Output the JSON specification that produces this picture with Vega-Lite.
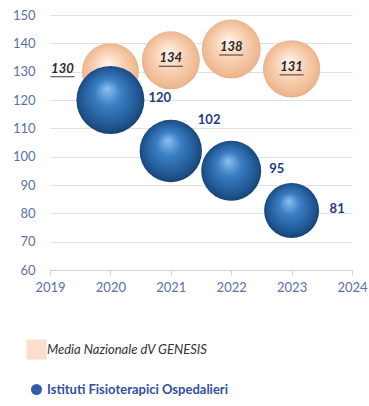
{
  "$schema": "https://vega.github.io/schema/vega-lite/v6.json",
  "autosize": "none",
  "width": 302,
  "height": 255,
  "padding": {"left": 50, "top": 15, "right": 17, "bottom": 136},
  "background": "white",
  "config": {"font": "Lato", "view": {"stroke": null}},
  "data": {"values": [
    {"year": 2020, "series": "Media Nazionale dV GENESIS", "value": 130},
    {"year": 2021, "series": "Media Nazionale dV GENESIS", "value": 134},
    {"year": 2022, "series": "Media Nazionale dV GENESIS", "value": 138},
    {"year": 2023, "series": "Media Nazionale dV GENESIS", "value": 131},
    {"year": 2020, "series": "Istituti Fisioterapici Ospedalieri", "value": 120},
    {"year": 2021, "series": "Istituti Fisioterapici Ospedalieri", "value": 102},
    {"year": 2022, "series": "Istituti Fisioterapici Ospedalieri", "value": 95},
    {"year": 2023, "series": "Istituti Fisioterapici Ospedalieri", "value": 81}
  ]},
  "encoding": {
    "x": {"field": "year", "type": "quantitative",
      "scale": {"domain": [2019, 2024], "nice": false, "zero": false},
      "axis": {"title": null, "values": [2019, 2020, 2021, 2022, 2023, 2024], "format": "d", "grid": false,
        "domainColor": "#d0d0d0", "tickColor": "#d0d0d0", "tickSize": 5, "labelPadding": 6,
        "labelFontSize": 13, "labelColor": "#5b6fa8", "labelFlush": false}},
    "y": {"field": "value", "type": "quantitative",
      "scale": {"domain": [60, 150], "nice": false, "zero": false},
      "axis": {"title": null, "values": [60, 70, 80, 90, 100, 110, 120, 130, 140, 150], "domain": false, "ticks": false,
        "gridColor": "#e0e0e0", "labelPadding": 15, "labelFontSize": 13, "labelColor": "#5b6fa8"}}
  },
  "layer": [
    {
      "mark": {"type": "point", "filled": true, "opacity": 0, "size": 1},
      "encoding": {
        "color": {"field": "series", "type": "nominal",
          "scale": {"domain": ["Media Nazionale dV GENESIS", "Istituti Fisioterapici Ospedalieri"], "range": ["#fbdfcc", "#2f5ea8"]},
          "legend": {"title": null, "orient": "none", "legendX": -20, "legendY": 328, "direction": "vertical",
            "symbolOpacity": 1, "symbolSize": 400, "symbolStrokeWidth": 0, "rowPadding": 23, "labelOffset": 4,
            "labelFontSize": 13, "labelLimit": 300,
            "encode": {
              "symbols": {"update": {
                "shape": {"signal": "datum.label == 'Media Nazionale dV GENESIS' ? 'square' : 'circle'"},
                "size": {"signal": "datum.label == 'Media Nazionale dV GENESIS' ? 400 : 121"},
                "opacity": {"value": 1}
              }},
              "labels": {"update": {
                "fontStyle": {"signal": "datum.label == 'Media Nazionale dV GENESIS' ? 'italic' : 'normal'"},
                "fontWeight": {"signal": "datum.label == 'Media Nazionale dV GENESIS' ? 'normal' : 'bold'"},
                "fill": {"signal": "datum.label == 'Media Nazionale dV GENESIS' ? '#333333' : '#2f4f9f'"}
              }}
            }}}
      }
    },
    {
      "transform": [{"filter": "datum.series == 'Media Nazionale dV GENESIS'"}],
      "mark": {"type": "point", "filled": true, "opacity": 1, "strokeWidth": 0,
        "fill": {"gradient": "radial", "x1": 0.45, "y1": 0.35, "r1": 0, "x2": 0.5, "y2": 0.5, "r2": 0.55,
          "stops": [{"offset": 0, "color": "#fff4ec"}, {"offset": 0.45, "color": "#f9d3b6"}, {"offset": 0.85, "color": "#efb891"}, {"offset": 1, "color": "#e3a57c"}]}},
      "encoding": {
        "size": {"field": "value", "type": "quantitative", "scale": {"domain": [130, 138], "range": [3250, 3480], "zero": false}, "legend": null}
      }
    },
    {
      "transform": [{"filter": "datum.series == 'Istituti Fisioterapici Ospedalieri'"}],
      "mark": {"type": "point", "filled": true, "opacity": 1, "strokeWidth": 0,
        "fill": {"gradient": "radial", "x1": 0.45, "y1": 0.33, "r1": 0, "x2": 0.5, "y2": 0.5, "r2": 0.55,
          "stops": [{"offset": 0, "color": "#8cc0ef"}, {"offset": 0.35, "color": "#3b7fc4"}, {"offset": 0.8, "color": "#1e548f"}, {"offset": 1, "color": "#143a66"}]}},
      "encoding": {
        "size": {"field": "value", "type": "quantitative", "scale": {"domain": [81, 120], "range": [3025, 4624], "zero": false}, "legend": null}
      }
    },
    {
      "transform": [{"filter": "datum.series == 'Media Nazionale dV GENESIS' && datum.year == 2020"}],
      "mark": {"type": "text", "dx": -48, "dy": -3, "fontSize": 13, "fontStyle": "italic", "fontWeight": "bold", "color": "#2b2b2b"},
      "encoding": {"text": {"field": "value", "type": "quantitative"}}
    },
    {
      "transform": [{"filter": "datum.series == 'Media Nazionale dV GENESIS' && datum.year != 2020"}],
      "mark": {"type": "text", "dx": 0, "dy": -2, "fontSize": 13, "fontStyle": "italic", "fontWeight": "bold", "color": "#2b2b2b"},
      "encoding": {"text": {"field": "value", "type": "quantitative"}}
    },
    {
      "transform": [{"filter": "datum.series == 'Media Nazionale dV GENESIS' && datum.year == 2020"}],
      "mark": {"type": "tick", "orient": "horizontal", "size": 24, "thickness": 1.3, "color": "#2b2b2b", "xOffset": -48, "yOffset": 5},
      "encoding": {}
    },
    {
      "transform": [{"filter": "datum.series == 'Media Nazionale dV GENESIS' && datum.year != 2020"}],
      "mark": {"type": "tick", "orient": "horizontal", "size": 24, "thickness": 1.3, "color": "#2b2b2b", "yOffset": 6},
      "encoding": {}
    },
    {
      "transform": [{"filter": "datum.series == 'Istituti Fisioterapici Ospedalieri' && datum.year != 2021"}],
      "mark": {"type": "text", "align": "left", "dx": 38, "dy": -2, "fontSize": 13, "fontWeight": "bold", "color": "#1f3d7a"},
      "encoding": {"text": {"field": "value", "type": "quantitative"}}
    },
    {
      "transform": [{"filter": "datum.series == 'Istituti Fisioterapici Ospedalieri' && datum.year == 2021"}],
      "mark": {"type": "text", "align": "left", "dx": 27, "dy": -31, "fontSize": 13, "fontWeight": "bold", "color": "#1f3d7a"},
      "encoding": {"text": {"field": "value", "type": "quantitative"}}
    }
  ],
  "resolve": {"scale": {"size": "independent"}}
}
